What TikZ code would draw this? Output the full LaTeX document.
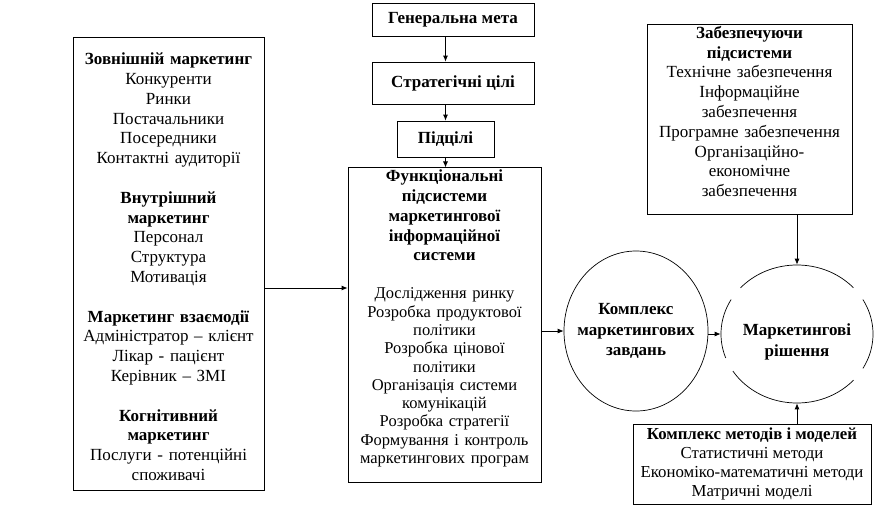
\documentclass[tikz,border=0pt]{standalone}
\usepackage{fontspec}
\setmainfont{Liberation Serif}
\usetikzlibrary{arrows.meta,shapes.geometric}
\tikzset{
  blockbox/.style={
    draw=black,
    line width=0.8pt,
    align=center,
    inner sep=2pt,
    font=\fontsize{17}{19.8}\selectfont
  },
  titlebox/.style={blockbox,font=\fontsize{17}{19.8}\selectfont\bfseries},
  taskoval/.style={
    ellipse,
    draw=black,
    line width=0.7pt,
    inner sep=0pt
  },
  ovaltext/.style={align=center,font=\fontsize{17}{20.5}\selectfont\bfseries},
  linkarrow/.style={-{Latex[length=6pt,width=5pt]},line width=0.8pt,draw=black}
}

\begin{document}
\begin{tikzpicture}[x=1pt,y=-1pt]
  \useasboundingbox (0,0) rectangle (878,506);
  \node[blockbox,text width=187pt,minimum height=453pt] (ext) at (168.5,263.5)
    {\mbox{}\par\vspace{-1.3pt}
     \textbf{Зовнішній маркетинг}\\Конкуренти\\Ринки\\Постачальники\\Посередники\\Контактні аудиторії\\[19.8pt]
     \textbf{Внутрішний}\\\textbf{маркетинг}\\Персонал\\Структура\\Мотивація\\[19.8pt]
     \textbf{Маркетинг взаємодії}\\Адміністратор – клієнт\\Лікар - пацієнт\\Керівник – ЗМІ\\[19.8pt]
     \textbf{Когнітивний}\\\textbf{маркетинг}\\Послуги - потенційні\\споживачі\par};
  \node[titlebox,minimum width=162pt,minimum height=33pt] (goal) at (453,19.5) {Генеральна мета};
  \node[titlebox,minimum width=162pt,minimum height=42pt] (strat) at (453,83) {Стратегічні цілі};
  \node[titlebox,minimum width=97pt,minimum height=36pt] (subg) at (445.5,139) {Підцілі};
  \node[blockbox,text width=189pt,minimum height=312pt] (func) at (444.5,325)
    {{\bfseries Функціональні\\підсистеми\\маркетингової\\інформаційної\\системи\par}\vspace{19.7pt}
     {\fontsize{16.5}{18.3}\selectfont Дослідження ринку\\Розробка продуктової\\політики\\Розробка цінової\\політики\\Організація системи\\комунікацій\\Розробка стратегії\\Формування і контроль\\маркетингових програм\par
      \vspace{-1.7pt}\mbox{}\par}};
  \node[blockbox,text width=201pt,minimum height=188pt] (supp) at (749.5,119)
    {\textbf{Забезпечуючи}\\\textbf{підсистеми}\\Технічне забезпечення\\Інформаційне\\забезпечення\\Програмне забезпечення\\Організаційно-\\економічне\\забезпечення\par
     \vspace{-4.5pt}\mbox{}\par};
  \node[blockbox,minimum width=238pt,minimum height=80pt,font=\fontsize{16.8}{19}\selectfont] (meth) at (752,464)
    {\textbf{Комплекс методів і моделей}\\Статистичні методи\\Економіко-математичні методи\\Матричні моделі};
  \node[taskoval,minimum width=144pt,minimum height=160pt,
    label={[ovaltext]center:Комплекс\\маркетингових\\завдань}] (tasks) at (636,331) {};
  \node[taskoval,minimum width=152pt,minimum height=138pt,
    dash pattern=on 36.5pt off 15pt on 125pt off 15pt on 61pt off 15pt on 137pt off 15pt,
    label={[ovaltext,yshift=-8pt]center:Маркетингові\\рішення}] (res) at (797,334) {};
  \draw[linkarrow] (goal.south -| subg.north) -- (strat.north -| subg.north);
  \draw[linkarrow] (strat.south -| subg.north) -- (subg.north);
  \draw[linkarrow] (subg.south) -- (func.north -| subg.south);
  \draw[linkarrow] ([yshift=-24.5pt]ext.east) -- ([yshift=-24.5pt]ext.east -| func.west);
  \draw[linkarrow] (func.east |- tasks.west) -- (tasks.west);
  \draw[linkarrow] (tasks.east |- res.west) -- (res.west);
  \draw[linkarrow] (supp.south -| res.north) -- (res.north);
  \draw[linkarrow] (meth.north -| res.south) -- (res.south);
\end{tikzpicture}
\end{document}
